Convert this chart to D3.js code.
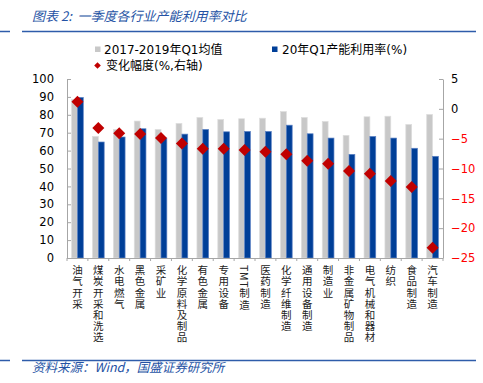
<!DOCTYPE html>
<html><head><meta charset="utf-8">
<script src="https://cdn.jsdelivr.net/npm/d3@7/dist/d3.min.js"></script>
<style>
body{margin:0;background:#fff;}
svg{display:block;}
</style></head>
<body><svg id="c" width="483" height="383"></svg>
<script>
const categories = ["油气开采","煤炭开采和洗选","水电燃气","黑色金属","采矿业","化学原料及制品","有色金属","专用设备","TMT制造","医药制造","化学纤维制造","通用设备制造","制造业","非金属矿物制品","电气机械和器材","纺织","食品制造","汽车制造"];
const avg1719 = [88.5,67.9,71.8,76.5,71.8,75.2,78.5,77.4,77.8,78.1,81.8,78.5,76.3,68.5,78.9,79.2,74.6,80.2];
const q1_2020 = [89.7,64.8,67.6,72.2,67.0,69.2,71.8,70.5,70.7,70.7,74.2,69.4,67.0,57.9,67.9,67.0,61.3,56.8];
const change = [1.2,-3.2,-4.1,-4.2,-4.9,-5.8,-6.7,-6.7,-6.9,-7.2,-7.6,-8.7,-9.2,-10.4,-10.9,-12.1,-13.1,-23.3];
const leftTicks = [0,10,20,30,40,50,60,70,80,90,100];
const rightTicks = [5,0,-5,-10,-15,-20,-25];
const seriesNames = ["2017-2019年Q1均值","20年Q1产能利用率(%)","变化幅度(%,右轴)"];

const svg = d3.select("#c");
const L = 67, R = 443, T = 79, B = 258;
const numFont = "'DejaVu Sans','Noto Sans CJK SC',sans-serif";
const cjkFont = "'Noto Sans CJK SC',sans-serif";
const blueText = "#2452A4";

// title & source
svg.append("text").attr("x",32).attr("y",21).attr("font-family",cjkFont).attr("font-size",13)
  .attr("font-style","italic").attr("fill",blueText).style("white-space","pre")
  .text("图表 2:  一季度各行业产能利用率对比");
svg.append("line").attr("x1",22).attr("x2",476).attr("y1",31.5).attr("y2",31.5).attr("stroke","#2E5CAA").attr("stroke-width",1.5);
svg.append("line").attr("x1",0).attr("x2",10).attr("y1",31.5).attr("y2",31.5).attr("stroke","#2E5CAA").attr("stroke-width",1.5);
svg.append("line").attr("x1",22).attr("x2",476).attr("y1",360.5).attr("y2",360.5).attr("stroke","#2E5CAA").attr("stroke-width",1.5);
svg.append("line").attr("x1",0).attr("x2",10).attr("y1",360.5).attr("y2",360.5).attr("stroke","#2E5CAA").attr("stroke-width",1.5);
svg.append("text").attr("x",32).attr("y",372).attr("font-family",cjkFont).attr("font-size",12.5)
  .attr("font-style","italic").attr("fill",blueText).text("资料来源：Wind，国盛证券研究所");

// scales
const pi = 0.44;
const x = d3.scaleBand().domain(categories).range([L,R]).paddingInner(pi).paddingOuter(pi/2);
const x1 = d3.scaleBand().domain(["avg","q1"]).range([0,x.bandwidth()]);
const yL = d3.scaleLinear().domain([0,100]).range([B,T]);
const yR = d3.scaleLinear().domain([-25,5]).range([B,T]);

// bars
const g = svg.append("g");
g.selectAll("rect.avg").data(categories).join("rect").attr("class","avg")
  .attr("x",(c)=>x(c)+x1("avg")).attr("width",x1.bandwidth())
  .attr("y",(c,i)=>yL(avg1719[i])).attr("height",(c,i)=>B-yL(avg1719[i]))
  .attr("fill","#C8C8C8").attr("stroke","#DEDEDE").attr("stroke-width",0.7);
g.selectAll("rect.q1").data(categories).join("rect").attr("class","q1")
  .attr("x",(c)=>x(c)+x1("q1")).attr("width",x1.bandwidth())
  .attr("y",(c,i)=>yL(q1_2020[i])).attr("height",(c,i)=>B-yL(q1_2020[i]))
  .attr("fill","#003F98").attr("stroke","#5C82C4").attr("stroke-width",0.7);

// axes
const axL = svg.append("g").attr("transform",`translate(${L},0)`)
  .call(d3.axisLeft(yL).tickValues(leftTicks).tickSize(-4).tickPadding(13).tickSizeOuter(0));
axL.select(".domain").attr("stroke","#A6A6A6");
axL.selectAll(".tick line").attr("stroke","#A6A6A6");
axL.selectAll(".tick text").attr("font-family",numFont).attr("font-size",11.5).attr("fill","#000");

const axR = svg.append("g").attr("transform",`translate(${R},0)`)
  .call(d3.axisRight(yR).tickValues(rightTicks).tickSize(-4).tickPadding(8).tickSizeOuter(0));
axR.select(".domain").attr("stroke","#A6A6A6");
axR.selectAll(".tick line").attr("stroke","#A6A6A6");
axR.selectAll(".tick text").attr("font-family",numFont).attr("font-size",11.5)
  .attr("fill",d=>d<0?"#FF0000":"#000");

// bottom axis
const step = x.step();
svg.append("line").attr("x1",L).attr("x2",R).attr("y1",B+0.5).attr("y2",B+0.5).attr("stroke","#A6A6A6");
svg.selectAll("line.bt").data(categories.concat([null])).join("line").attr("class","bt")
  .attr("x1",(c,i)=>L+i*step).attr("x2",(c,i)=>L+i*step)
  .attr("y1",B).attr("y2",B+3).attr("stroke","#A6A6A6");

// category labels (vertical)
svg.selectAll("text.cat").data(categories).join("text").attr("class","cat")
  .attr("x",c=>x(c)+x.bandwidth()/2).attr("y",265)
  .style("writing-mode","vertical-rl").style("text-orientation","mixed")
  .attr("font-family",cjkFont).attr("font-size",10.5).attr("letter-spacing",0.7)
  .attr("fill","#222").text(c=>c);

// diamonds
svg.selectAll("path.chg").data(categories).join("path").attr("class","chg")
  .attr("d",d3.symbol(d3.symbolSquare,72)())
  .attr("transform",(c,i)=>`translate(${x(c)+x.bandwidth()/2},${yR(change[i])}) rotate(45)`)
  .attr("fill","#C00000");

// legend
const lg = svg.append("g").attr("font-family",numFont).attr("font-size",12).attr("fill","#000");
lg.append("rect").attr("x",95).attr("y",46.5).attr("width",5.5).attr("height",5.5).attr("fill","#C8C8C8");
lg.append("text").attr("x",104).attr("y",54).text(seriesNames[0]);
lg.append("rect").attr("x",272).attr("y",46.5).attr("width",5.5).attr("height",5.5).attr("fill","#003F98");
lg.append("text").attr("x",282).attr("y",54).text(seriesNames[1]);
lg.append("path").attr("d",d3.symbol(d3.symbolSquare,22)()).attr("transform","translate(97.5,65.5) rotate(45)").attr("fill","#C00000");
lg.append("text").attr("x",106).attr("y",70).text(seriesNames[2]);
</script></body></html>
